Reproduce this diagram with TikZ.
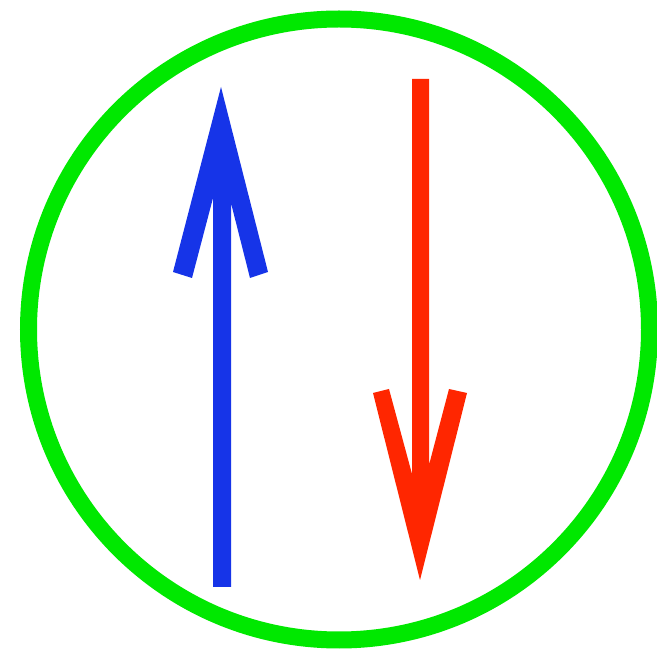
\documentclass[tikz,border=0pt]{standalone}
\definecolor{ringgreen}{RGB}{0,232,0}
\definecolor{arrowblue}{RGB}{22,52,232}
\definecolor{arrowred}{RGB}{255,38,0}
\begin{document}
\begin{tikzpicture}[x=1pt,y=-1pt,
  ring/.style={draw=ringgreen,line width=17pt},
  bluearrow/.style={fill=arrowblue},
  redarrow/.style={fill=arrowred}]
\useasboundingbox (0,0) rectangle (657,652);
\fill[white] (0,0) rectangle (657,652);
\coordinate (c) at (339,329.5);
\draw[ring] (c) circle[radius=310.5];
% blue up arrow
\fill[bluearrow] (221,87) -- (268,272) -- (250,278) -- (231,203) -- (231,587)
  -- (213,587) -- (213,198) -- (192,278) -- (173,272) -- cycle;
% red down arrow
\fill[redarrow] (412,79) -- (429,79) -- (429,465) -- (449,389) -- (467,393)
  -- (420,580) -- (373,393) -- (389,389) -- (412,474) -- cycle;
\end{tikzpicture}
\end{document}
